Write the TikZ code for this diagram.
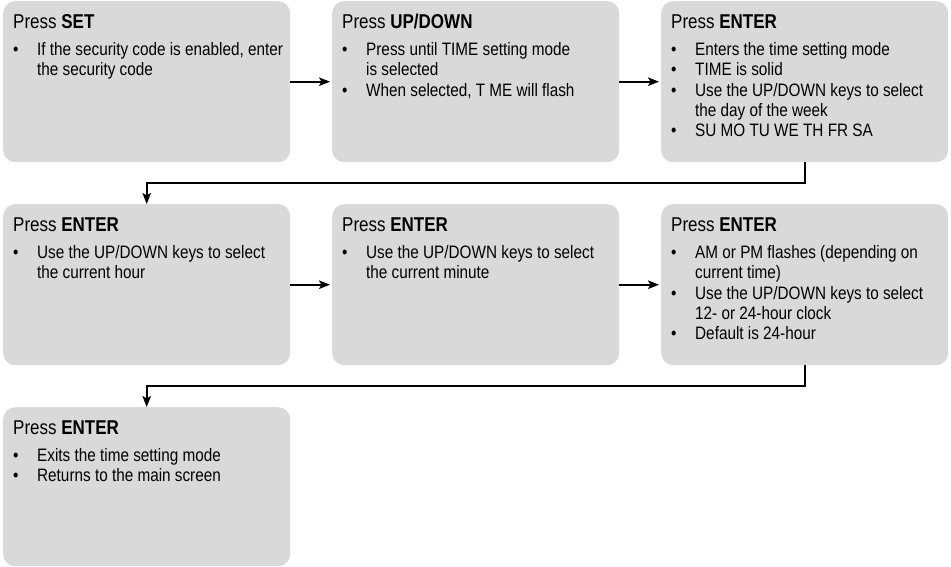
\documentclass[tikz,border=0pt]{standalone}
\usepackage{fontspec}
\setmainfont{Liberation Sans}[FakeStretch=0.85]
\usetikzlibrary{arrows.meta}
\definecolor{boxgray}{HTML}{D9D9D9}
\newcommand{\bul}{\makebox[24pt][l]{\textbullet}}
\newcommand{\cont}{\hspace*{24pt}}
\newcommand{\stepbody}[2]{\parbox[t]{280pt}{\fontsize{18}{20.3}\selectfont\raggedright\parindent=0pt
{\fontsize{20}{20}\selectfont Press \textbf{#1}}\\[6.7pt]#2}}
\tikzset{
  stepbox/.style={fill=boxgray, rounded corners=12pt, draw=none, minimum width=287pt, minimum height=161pt, anchor=north west, inner sep=0pt},
  steptext/.style={anchor=base west, inner sep=0pt, text=black},
  arr/.style={draw=black, line width=2pt, -{Stealth[length=11pt,width=8.5pt,inset=2.5pt]}}
}
\begin{document}
\begin{tikzpicture}[x=1pt,y=-1pt]
\useasboundingbox (0,0) rectangle (951,567);
% boxes
\node[stepbox] (b1) at (3,1) {};
\node[stepbox] (b2) at (332,1) {};
\node[stepbox] (b3) at (661,1) {};
\node[stepbox] (b4) at (3,204) {};
\node[stepbox] (b5) at (332,204) {};
\node[stepbox] (b6) at (661,204) {};
\node[stepbox, minimum height=159pt] (b7) at (3,407) {};
% texts
\node[steptext] (t1) at ([shift={(10,27.5)}]b1.north west) {\stepbody{SET}{%
\bul If the security code is enabled, enter\\
\cont the security code}};
\node[steptext] (t2) at ([shift={(10,27.5)}]b2.north west) {\stepbody{UP/DOWN}{%
\bul Press until TIME setting mode\\
\cont is selected\\
\bul When selected, T ME will flash}};
\node[steptext] (t3) at ([shift={(10,27.5)}]b3.north west) {\stepbody{ENTER}{%
\bul Enters the time setting mode\\
\bul TIME is solid\\
\bul Use the UP/DOWN keys to select\\
\cont the day of the week\\
\bul SU MO TU WE TH FR SA}};
\node[steptext] (t4) at ([shift={(10,27.5)}]b4.north west) {\stepbody{ENTER}{%
\bul Use the UP/DOWN keys to select\\
\cont the current hour}};
\node[steptext] (t5) at ([shift={(10,27.5)}]b5.north west) {\stepbody{ENTER}{%
\bul Use the UP/DOWN keys to select\\
\cont the current minute}};
\node[steptext] (t6) at ([shift={(10,27.5)}]b6.north west) {\stepbody{ENTER}{%
\bul AM or PM flashes (depending on\\
\cont current time)\\
\bul Use the UP/DOWN keys to select\\
\cont 12- or 24-hour clock\\
\bul Default is 24-hour}};
\node[steptext] (t7) at ([shift={(10,27.5)}]b7.north west) {\stepbody{ENTER}{%
\bul Exits the time setting mode\\
\bul Returns to the main screen}};
% connectors
\coordinate (m1) at (0,183);
\coordinate (m2) at (0,386);
\draw[arr, shorten >=2pt] (b1.east) -- (b2.west);
\draw[arr, shorten >=2pt] (b2.east) -- (b3.west);
\draw[arr, shorten >=2pt] (b4.east) -- (b5.west);
\draw[arr, shorten >=2pt] (b5.east) -- (b6.west);
\draw[arr] (b3.south) -- (b3.south |- m1) -| (b4.north);
\draw[arr] (b6.south) -- (b6.south |- m2) -| (b7.north);
\end{tikzpicture}
\end{document}
